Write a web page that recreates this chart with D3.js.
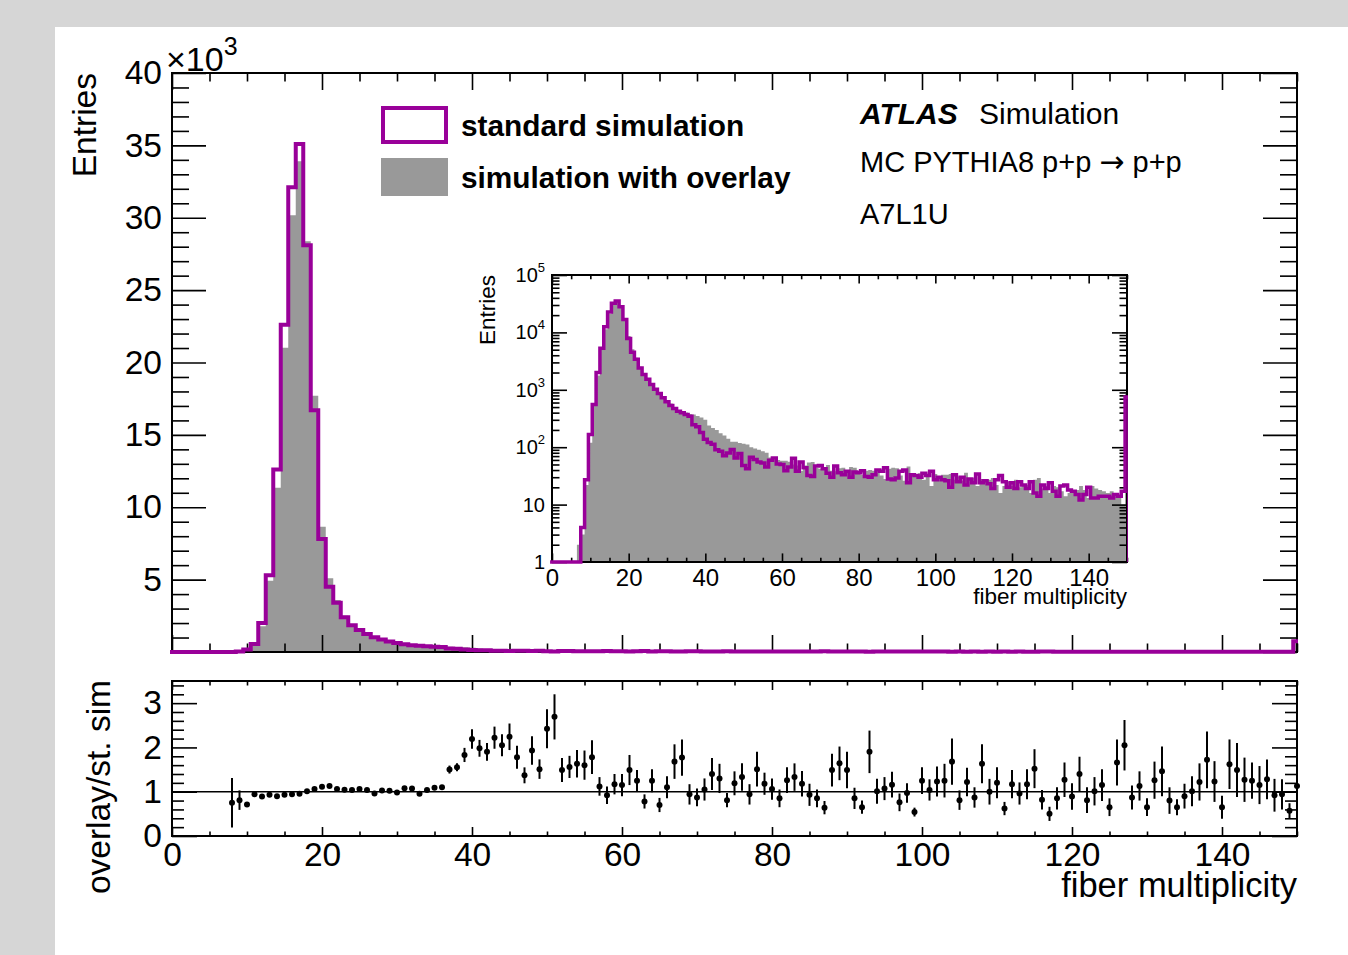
<!DOCTYPE html>
<html><head><meta charset="utf-8">
<script src="https://cdn.jsdelivr.net/npm/d3@7"></script>
<style>
body{margin:0;background:#d6d6d6;}
svg{display:block;font-family:"Liberation Sans",Arial,Helvetica,sans-serif;}
</style></head><body>
<svg id="c" width="1348" height="955"></svg>
<script>
// ---------------- data (bin centre = index, fiber multiplicity 0..150) ----------------
const standard = [
0,0,0,0,0,0,0,0,
4,27,167,556,2000,5300,12600,22600,32100,35100,
28100,16700,7800,4500,3400,2400,1850,1520,1240,1020,
865,730,620,535,470,425,400,370,345,247,
226,180,137,121,113,90,85,71,79,91,
65,78,48,42,67,61,55,53,45,59,
65,51,50,39,45,64,38,55,44,32,
31,47,48,42,35,30,47,36,33,38,
30,37,36,39,31,30,33,40,38,44,
28,27,29,38,40,24,33,32,30,35,
32,38,27,30,27,26,20,33,25,30,
22,28,24,34,24,26,23,19,27,32,
25,20,24,19,25,22,19,25,16,14,
22,19,24,17,14,21,22,18,17,15,
12,15,20,13,13,14,14,14,13,15,
14,17,750
];
const overlay = [
0,0,0,0,0,0,0,2,
3,22,119,523,1780,4930,11340,21020,30170,33900,
28380,17700,8660,5090,3600,2510,1920,1610,1290,980,
890,745,610,578,503,406,416,403,380,370,
350,330,300,240,215,200,175,160,140,125,
125,118,115,112,100,95,90,85,80,66,
60,60,58,58,56,50,48,39,48,54,
55,44,42,44,49,39,38,43,44,36,
45,44,38,33,39,40,39,37,32,28,
42,44,43,32,26,46,33,34,35,27,
31,21,34,31,33,33,34,27,31,26,
36,28,29,21,28,25,27,29,22,16,
21,25,21,27,20,22,22,16,27,29,
19,21,16,21,20,17,14,16,17,18,
21,18,13,21,19,18,17,16,17,14,
13,10,850
];
const ratio = [
null,null,null,null,null,null,null,null,
0.75,0.81,0.71,0.94,0.89,0.93,0.90,0.93,0.94,0.955,
1.01,1.06,1.11,1.13,1.06,1.045,1.04,1.06,1.04,0.96,
1.03,1.02,0.985,1.08,1.07,0.955,1.04,1.09,1.10,1.50,
1.55,1.83,2.19,1.98,1.90,2.22,2.05,2.24,1.78,1.37,
1.93,1.51,2.42,2.69,1.49,1.56,1.63,1.60,1.78,1.12,
0.92,1.17,1.15,1.49,1.25,0.78,1.25,0.70,1.10,1.68,
1.77,0.94,0.87,1.05,1.40,1.30,0.81,1.19,1.33,0.94,
1.51,1.18,1.06,0.85,1.26,1.33,1.18,0.93,0.85,0.64,
1.49,1.64,1.49,0.85,0.65,1.90,1.01,1.07,1.16,0.76,
0.97,0.54,1.25,1.04,1.23,1.25,1.68,0.81,1.22,0.87,
1.63,1.00,1.20,0.62,1.17,0.96,1.17,1.52,0.82,0.50,
0.85,1.27,0.89,1.40,0.81,1.01,1.15,0.65,1.66,2.05,
0.87,1.13,0.65,1.26,1.46,0.80,0.65,0.90,1.01,1.22,
1.72,1.23,0.65,1.62,1.49,1.27,1.25,1.15,1.28,0.92,
0.94,0.57,1.13
];
const ratioErr = [
null,null,null,null,null,null,null,null,
0.56,0.22,0.04,0.02,0.02,0.02,0.02,0.02,0.02,0.02,
0.02,0.02,0.02,0.02,0.02,0.02,0.02,0.02,0.02,0.02,
0.02,0.03,0.03,0.03,0.03,0.03,0.03,0.04,0.04,0.09,
0.09,0.16,0.22,0.19,0.20,0.25,0.25,0.30,0.26,0.18,
0.32,0.22,0.44,0.51,0.27,0.25,0.31,0.33,0.38,0.21,
0.20,0.23,0.25,0.34,0.24,0.16,0.26,0.16,0.25,0.39,
0.41,0.23,0.20,0.25,0.36,0.33,0.16,0.27,0.31,0.23,
0.39,0.25,0.24,0.20,0.29,0.31,0.29,0.25,0.20,0.15,
0.37,0.38,0.41,0.24,0.15,0.48,0.28,0.26,0.29,0.20,
0.22,0.10,0.30,0.24,0.34,0.38,0.52,0.22,0.32,0.23,
0.44,0.29,0.35,0.15,0.32,0.25,0.34,0.44,0.22,0.16,
0.25,0.39,0.30,0.39,0.29,0.32,0.36,0.20,0.52,0.57,
0.27,0.33,0.20,0.42,0.56,0.30,0.18,0.28,0.34,0.42,
0.64,0.46,0.26,0.56,0.61,0.50,0.41,0.43,0.45,0.37,
0.34,0.17,0.03
];
const xMajorTicks = [0,20,40,60,80,100,120,140];
const mainYTicks = [0,5000,10000,15000,20000,25000,30000,35000,40000];
const mainYLabels = ["","5","10","15","20","25","30","35","40"];
const ratioYTicks = [0,1,2,3];
const ratioYLabels = ["0","1","2","3"];
const insetYTicks = [1,10,100,1000,10000,100000];
const insetYExp = ["", "", "2","3","4","5"];
const legendLabels = ["standard simulation","simulation with overlay"];

// ---------------- drawing ----------------
const PURPLE = "#990099", GRAY = "#999999";
const svg = d3.select("#c");
svg.append("rect").attr("width",1348).attr("height",955).attr("fill","#d6d6d6");
svg.append("rect").attr("x",55).attr("y",27).attr("width",1293).attr("height",928).attr("fill","#fff");

const defs = svg.append("defs");
defs.append("clipPath").attr("id","clipMain").append("rect").attr("x",170).attr("y",40).attr("width",1128).attr("height",625);
defs.append("clipPath").attr("id","clipInset").append("rect").attr("x",550).attr("y",260).attr("width",578).attr("height",310);

function stepPts(vals, tf){
  const p=[];
  vals.forEach((v,i)=>{ p.push([i-0.5,tf(v)],[i+0.5,tf(v)]); });
  return p;
}
function axis(g, scale, orient, pos, values, len, fmt, pad, fs){
  const mk = {left:d3.axisLeft,right:d3.axisRight,top:d3.axisTop,bottom:d3.axisBottom}[orient];
  const ax = mk(scale).tickValues(values).tickSizeInner(-len).tickSizeOuter(0).tickPadding(pad)
    .tickFormat(fmt || (()=>""));
  const gg = g.append("g")
    .attr("transform", (orient==="left"||orient==="right") ? `translate(${pos},0)` : `translate(0,${pos})`)
    .call(ax);
  gg.select(".domain").remove();
  gg.selectAll("line").attr("stroke","#000").attr("stroke-width",1.6);
  gg.attr("font-family",null).attr("font-size",fs);
  gg.selectAll("text").attr("fill","#000");
  return gg;
}
const minorOf = (lo,hi,step,majors)=>d3.range(lo,hi+1e-9,step).filter(v=>!majors.some(m=>Math.abs(m-v)<1e-9));

// ===== main panel =====
const X = d3.scaleLinear([0,150],[172,1297]);
const Y = d3.scaleLinear([0,40000],[652,73]);
const gMain = svg.append("g");
const lin = v=>v;
gMain.append("path").attr("clip-path","url(#clipMain)")
  .attr("d", d3.area().x(d=>X(d[0])).y0(Y(0)).y1(d=>Y(d[1]))(stepPts(overlay,lin)))
  .attr("fill",GRAY);
gMain.append("rect").attr("x",172).attr("y",73).attr("width",1125).attr("height",579)
  .attr("fill","none").attr("stroke","#000").attr("stroke-width",2);
const xMinor = minorOf(0,150,5,xMajorTicks);
axis(gMain,X,"bottom",652,xMajorTicks,17,null,0,0);
axis(gMain,X,"bottom",652,xMinor,8.5,null,0,0);
axis(gMain,X,"top",73,xMajorTicks,17,null,0,0);
axis(gMain,X,"top",73,xMinor,8.5,null,0,0);
const yMinorMain = minorOf(0,40000,1000,mainYTicks);
axis(gMain,Y,"left",172,mainYTicks,34,(d,i)=>mainYLabels[mainYTicks.indexOf(d)],10,33.5);
axis(gMain,Y,"left",172,yMinorMain,17,null,0,0);
axis(gMain,Y,"right",1297,mainYTicks,34,null,0,0);
axis(gMain,Y,"right",1297,yMinorMain,17,null,0,0);
const line = d3.line().x(d=>X(d[0])).y(d=>Y(d[1]));
const pMain = [[-0.5,0], ...stepPts(standard,lin), [150.5,0]];
gMain.append("path").attr("clip-path","url(#clipMain)").attr("d",line(pMain))
  .attr("fill","none").attr("stroke",PURPLE).attr("stroke-width",4).attr("stroke-linejoin","miter");

// multiplier and y title
const mult = gMain.append("text").attr("x",166).attr("y",71).attr("font-size",34).text("\u00d710");
mult.append("tspan").attr("dy",-16).attr("font-size",25).text("3");
gMain.append("text").attr("transform","translate(96,73) rotate(-90)").attr("text-anchor","end")
  .attr("font-size",33.5).text("Entries");

// legend
gMain.append("rect").attr("x",383).attr("y",108).attr("width",63).attr("height",34)
  .attr("fill","none").attr("stroke",PURPLE).attr("stroke-width",4);
gMain.append("rect").attr("x",381).attr("y",158).attr("width",67).attr("height",38).attr("fill",GRAY);
legendLabels.forEach((t,i)=>{
  gMain.append("text").attr("x",461).attr("y",[136,188][i]).attr("font-size",29.8)
    .attr("font-weight","bold").text(t);
});
// ATLAS label
const atl = gMain.append("text").attr("x",860).attr("y",124).attr("font-size",30);
atl.append("tspan").attr("font-weight","bold").attr("font-style","italic").text("ATLAS");
atl.append("tspan").attr("x",979).text("Simulation");
const mc = gMain.append("text").attr("x",860).attr("y",172).attr("font-size",29);
mc.append("tspan").text("MC PYTHIA8 p+p ");
mc.append("tspan").attr("font-family","DejaVu Sans").attr("font-size",30).text("\u2192");
mc.append("tspan").text(" p+p");
gMain.append("text").attr("x",860).attr("y",224).attr("font-size",29).text("A7L1U");

// ===== inset =====
const XI = d3.scaleLinear([0,150],[552,1127]);
const YI = d3.scaleLog([1,1e5],[562,275]);
const gIn = svg.append("g");
gIn.append("rect").attr("x",552).attr("y",275).attr("width",575).attr("height",287).attr("fill","#fff");
const lg = v=>Math.max(v,1);
gIn.append("path").attr("clip-path","url(#clipInset)")
  .attr("d", d3.area().x(d=>XI(d[0])).y0(YI(1)).y1(d=>YI(d[1]))(stepPts(overlay,lg)))
  .attr("fill",GRAY);
gIn.append("rect").attr("x",552).attr("y",275).attr("width",575).attr("height",287)
  .attr("fill","none").attr("stroke","#000").attr("stroke-width",2);
const xiMinor = minorOf(0,150,5,xMajorTicks);
axis(gIn,XI,"bottom",562,xMajorTicks,8.6,d=>String(d),7,24);
axis(gIn,XI,"bottom",562,xiMinor,4.3,null,0,0);
axis(gIn,XI,"top",275,xMajorTicks,8.6,null,0,0);
axis(gIn,XI,"top",275,xiMinor,4.3,null,0,0);
const yiMinor = [];
[1,10,100,1000,10000].forEach(d=>{ for(let k=2;k<=9;k++) yiMinor.push(d*k); });
axis(gIn,YI,"left",552,insetYTicks,15,null,0,0);
axis(gIn,YI,"left",552,yiMinor,7.5,null,0,0);
axis(gIn,YI,"right",1127,insetYTicks,15,null,0,0);
axis(gIn,YI,"right",1127,yiMinor,7.5,null,0,0);
insetYTicks.forEach((v,i)=>{
  const t = gIn.append("text").attr("text-anchor","end").attr("x",545).attr("y",YI(v)+7).attr("font-size",20);
  if (insetYExp[i]==="") t.text(v===1?"1":"10");
  else { t.text("10"); t.append("tspan").attr("dy",-10).attr("font-size",13).text(insetYExp[i]); }
});
const lineI = d3.line().x(d=>XI(d[0])).y(d=>YI(d[1]));
const pIn = [[-0.5,1], ...stepPts(standard,lg), [150.5,1]];
gIn.append("path").attr("clip-path","url(#clipInset)").attr("d",lineI(pIn))
  .attr("fill","none").attr("stroke",PURPLE).attr("stroke-width",3.5);
gIn.append("text").attr("transform","translate(495,275) rotate(-90)").attr("text-anchor","end")
  .attr("font-size",22.5).text("Entries");
gIn.append("text").attr("x",1127).attr("y",604).attr("text-anchor","end").attr("font-size",22.5)
  .text("fiber multiplicity");

// ===== ratio panel =====
const YR = d3.scaleLinear([0,3.5],[836,681]);
const gR = svg.append("g");
gR.append("rect").attr("x",172).attr("y",681).attr("width",1125).attr("height",155)
  .attr("fill","none").attr("stroke","#000").attr("stroke-width",2);
axis(gR,X,"bottom",836,xMajorTicks,9,d=>String(d),6,33.5);
axis(gR,X,"bottom",836,xMinor,4.5,null,0,0);
axis(gR,X,"top",681,xMajorTicks,9,null,0,0);
axis(gR,X,"top",681,xMinor,4.5,null,0,0);
const yrMinor = minorOf(0,3.4,0.2,ratioYTicks);
axis(gR,YR,"left",172,ratioYTicks,25,d=>ratioYLabels[ratioYTicks.indexOf(d)],10,33.5);
axis(gR,YR,"left",172,yrMinor,12,null,0,0);
axis(gR,YR,"right",1297,ratioYTicks,25,null,0,0);
axis(gR,YR,"right",1297,yrMinor,12,null,0,0);
gR.append("line").attr("x1",172).attr("x2",1297).attr("y1",YR(1)).attr("y2",YR(1))
  .attr("stroke","#000").attr("stroke-width",1.6);
const pts = standard.map((s,i)=>({b:i,r:ratio[i],e:ratioErr[i]})).filter(d=>d.r!==null);
gR.selectAll("line.err").data(pts).enter().append("line").attr("class","err")
  .attr("x1",d=>X(d.b)).attr("x2",d=>X(d.b)).attr("y1",d=>YR(d.r-d.e)).attr("y2",d=>YR(d.r+d.e))
  .attr("stroke","#000").attr("stroke-width",2);
gR.selectAll("circle").data(pts).enter().append("circle")
  .attr("cx",d=>X(d.b)).attr("cy",d=>YR(d.r)).attr("r",3).attr("fill","#000");
gR.append("text").attr("transform","translate(110,680) rotate(-90)").attr("text-anchor","end")
  .attr("font-size",33.5).text("overlay/st. sim");
gR.append("text").attr("x",1297).attr("y",897).attr("text-anchor","end").attr("font-size",34.5)
  .text("fiber multiplicity");
</script>
</body></html>
